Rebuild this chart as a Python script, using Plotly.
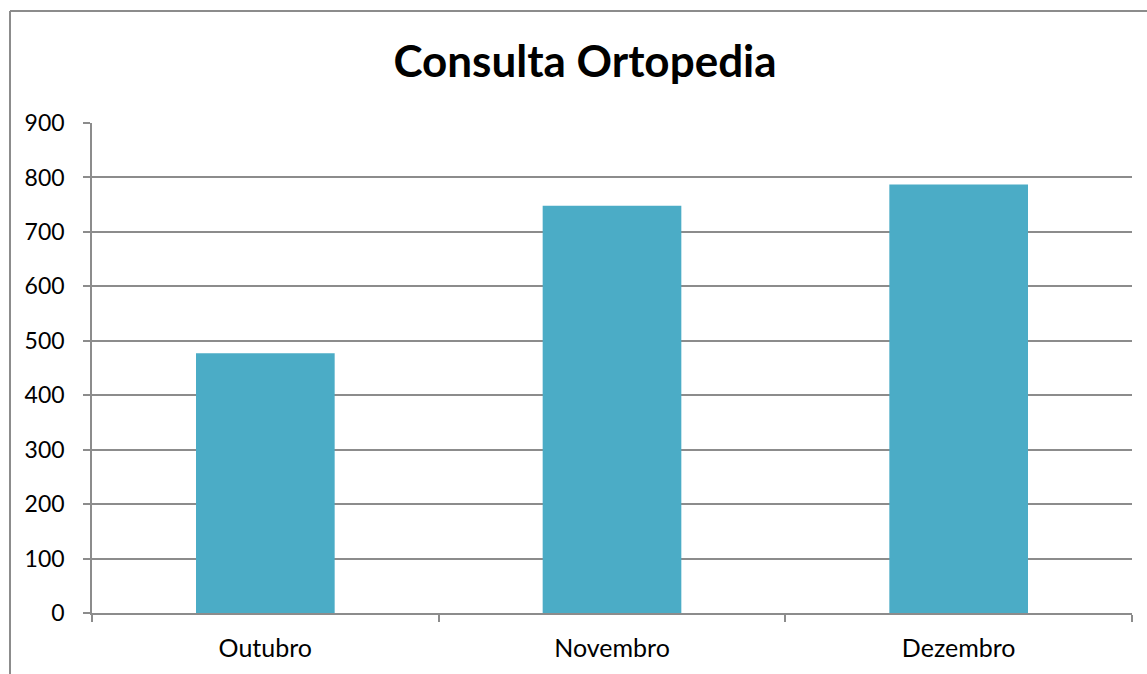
import plotly.graph_objects as go

categories = ["Outubro", "Novembro", "Dezembro"]
values = [477, 748, 787]
y_ticks = [0, 100, 200, 300, 400, 500, 600, 700, 800, 900]

W, H = 1147, 674
L, R, T, B = 92, 15, 123, 57
pw = W - L - R
ph = H - T - B

fig = go.Figure(go.Bar(
    x=categories, y=values,
    marker=dict(color="#4BACC6", line=dict(width=0)),
    width=0.4,
))

fig.update_layout(
    width=W, height=H,
    margin=dict(l=L, r=R, t=T, b=B),
    paper_bgcolor="white", plot_bgcolor="white",
    font=dict(family="Lato, Carlito, sans-serif", color="black"),
    title=dict(text="<b>Consulta Ortopedia</b>", x=585 / W, xanchor="center", xref="container",
               y=1 - 62 / H, yanchor="middle", font=dict(size=44, family="Lato, sans-serif")),
    showlegend=False,
    bargap=0.6,
)
fig.update_yaxes(
    range=[0, 900], tickvals=y_ticks, showgrid=True, gridcolor="#8c8c8c", gridwidth=1.5,
    showline=True, linecolor="#8c8c8c", linewidth=1.5,
    ticks="outside", ticklen=7, tickcolor="#8c8c8c", tickwidth=1.5,
    ticklabelstandoff=14, tickfont=dict(size=23), zeroline=False,
)
fig.update_xaxes(
    showline=True, linecolor="#8c8c8c", linewidth=1.5, showgrid=False,
    ticks="outside", ticklen=7, tickcolor="#8c8c8c", tickwidth=1.5,
    tickson="boundaries", tickfont=dict(size=25), ticklabelstandoff=12,
    range=[-0.5, 2.5],
)
# outer chart border: left edge and top edge only
fig.add_shape(type="line", xref="paper", yref="paper",
              x0=(10 - L) / pw, x1=(10 - L) / pw, y0=-0.3, y1=(T - 10 + ph) / ph,
              line=dict(color="#8c8c8c", width=2), layer="below")
fig.add_shape(type="line", xref="paper", yref="paper",
              x0=(10 - L) / pw, x1=(W - L) / pw, y0=(T - 10 + ph) / ph, y1=(T - 10 + ph) / ph,
              line=dict(color="#8c8c8c", width=2), layer="below")

fig.write_html(
    "out.html",
    config={"displayModeBar": False},
    post_script="document.body.style.margin='0';document.body.style.overflow='hidden';",
)
